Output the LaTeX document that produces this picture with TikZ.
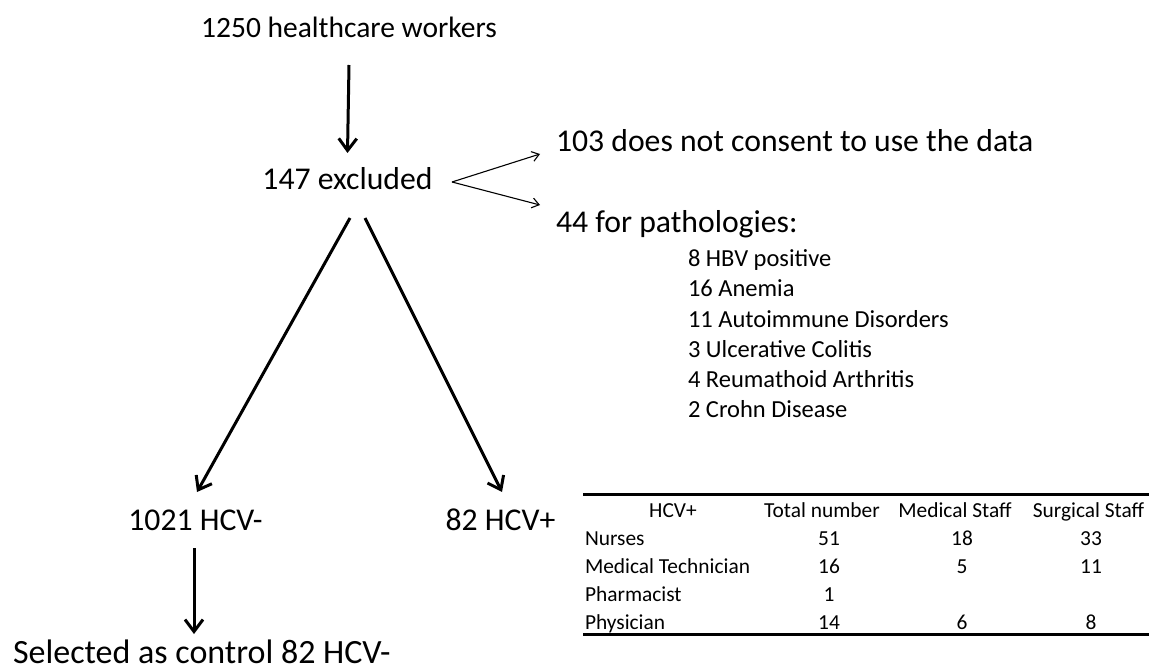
\documentclass[tikz,border=0pt]{standalone}
\usepackage{fontspec}
\setmainfont{Carlito}
\usetikzlibrary{arrows.meta}
\tikzset{
  txt/.style={inner sep=0pt, outer sep=0pt},
  bigtxt/.style={txt, font=\fontsize{31.7}{38}\selectfont},
  toptxt/.style={txt, font=\fontsize{29.5}{36}\selectfont},
  listtxt/.style={txt, anchor=base west, font=\fontsize{24.5}{30}\selectfont},
  tabtxt/.style={txt, font=\fontsize{21.4}{26}\selectfont},
  thickarrow/.style={line width=3pt, -{Straight Barb[length=12pt,width=18pt]}},
  thinarrow/.style={line width=1.1pt, -{Straight Barb[length=7pt,width=10pt]}},
  tabrule/.style={line width=3pt}
}
\begin{document}
\begin{tikzpicture}[x=1pt,y=-1pt]
\useasboundingbox (0,0) rectangle (1149,671);
% main texts
\node[toptxt, anchor=base] (top) at (349,38) {1250 healthcare workers};
\node[bigtxt, anchor=base] (excl) at (347.5,190) {147 excluded};
\node[bigtxt, anchor=base west] (consent) at (556,152) {103 does not consent to use the data};
\node[bigtxt, anchor=base west] (patho) at (556,233) {44 for pathologies:};
\node[listtxt] (l1) at (688,267) {8 HBV positive};
\node[listtxt] (l2) at (688,297) {16 Anemia};
\node[listtxt] (l3) at (688,327) {11 Autoimmune Disorders};
\node[listtxt] (l4) at (688,357) {3 Ulcerative Colitis};
\node[listtxt] (l5) at (688,387) {4 Reumathoid Arthritis};
\node[listtxt] (l6) at (688,417) {2 Crohn Disease};
\node[bigtxt, anchor=base] (neg) at (195.5,530) {1021 HCV-};
\node[bigtxt, anchor=base] (pos) at (500.5,530) {82 HCV+};
\node[txt, anchor=base west, font=\fontsize{34}{40}\selectfont] (ctrl) at (13,663) {Selected as control 82 HCV-};
% arrows
\draw[thickarrow] ([yshift=-27pt]top.base) -- ([yshift=37pt]excl.base);
\draw[thickarrow] ([xshift=2.5pt,yshift=-28pt]excl.base) -- ([xshift=1.5pt,yshift=38pt]neg.base);
\draw[thickarrow] ([xshift=17.5pt,yshift=-28pt]excl.base) -- ([xshift=1.5pt,yshift=38pt]pos.base);
\draw[thinarrow] ([xshift=104.5pt,yshift=8pt]excl.base) -- ([xshift=-16pt,yshift=-2pt]consent.base west);
\draw[thinarrow] ([xshift=104.5pt,yshift=8pt]excl.base) -- ([xshift=-16pt,yshift=28pt]patho.base west);
\draw[thickarrow] ([xshift=-1.5pt,yshift=-18pt]neg.base) -- ([xshift=181pt,yshift=29pt]ctrl.base west);
% table
\coordinate (tl) at (583,494);
\coordinate (tr) at (1149,494);
\coordinate (bl) at (583,634);
\coordinate (br) at (1149,634);
\draw[tabrule] (tl) -- (tr);
\draw[tabrule] (bl) -- (br);
\node[tabtxt, anchor=base] (h1) at (673,517) {HCV+};
\node[tabtxt, anchor=base] (h2) at (822,517) {Total number};
\node[tabtxt, anchor=base] (h3) at (955,517) {Medical Staff};
\node[tabtxt, anchor=base] (h4) at (1088.5,517) {Surgical Staff};
\node[tabtxt, anchor=base west] (r1) at (585,545) {Nurses};
\node[tabtxt, anchor=base west] (r2) at (585,573) {Medical Technician};
\node[tabtxt, anchor=base west] (r3) at (585,601) {Pharmacist};
\node[tabtxt, anchor=base west] (r4) at (585,629) {Physician};
\node[tabtxt, anchor=base] (c12) at (829,545) {51};
\node[tabtxt, anchor=base] (c13) at (962,545) {18};
\node[tabtxt, anchor=base] (c14) at (1091,545) {33};
\node[tabtxt, anchor=base] (c22) at (829,573) {16};
\node[tabtxt, anchor=base] (c23) at (962,573) {5};
\node[tabtxt, anchor=base] (c24) at (1091,573) {11};
\node[tabtxt, anchor=base] (c32) at (829,601) {1};
\node[tabtxt, anchor=base] (c42) at (829,629) {14};
\node[tabtxt, anchor=base] (c43) at (962,629) {6};
\node[tabtxt, anchor=base] (c44) at (1091,629) {8};
\end{tikzpicture}
\end{document}
